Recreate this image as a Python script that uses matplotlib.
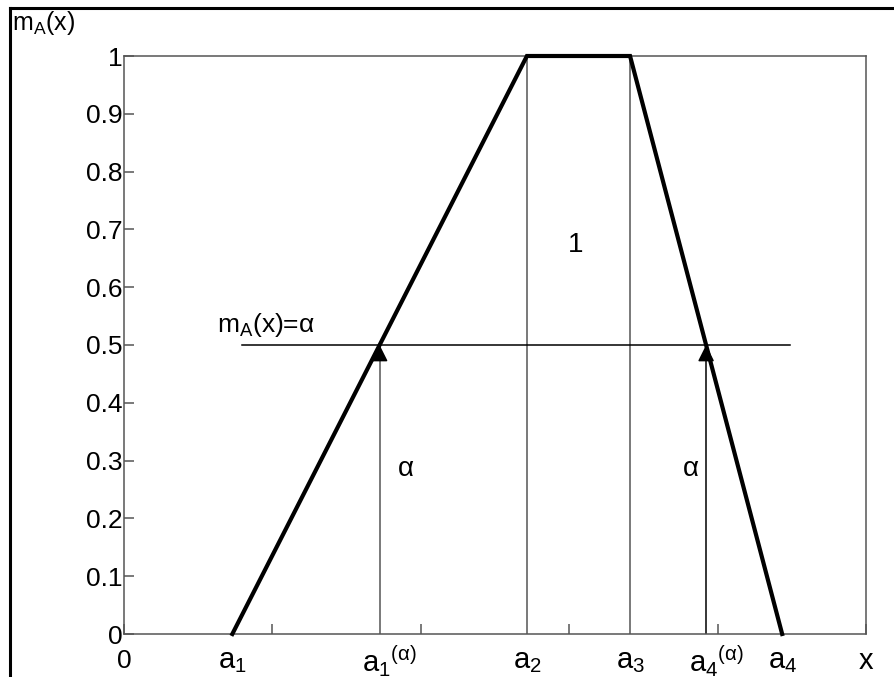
import matplotlib.pyplot as plt
from matplotlib.lines import Line2D

plt.rcParams['font.family'] = ['Liberation Sans', 'DejaVu Sans']
plt.rcParams['mathtext.fontset'] = 'custom'
plt.rcParams['mathtext.rm'] = 'Liberation Sans'
plt.rcParams['mathtext.default'] = 'regular'

# trapezoid membership function
a1, a2, a3, a4 = 0.73, 2.715, 3.41, 4.435
alpha = 0.5
a1_alpha = (a1 + a2) / 2
a4_alpha = (a3 + a4) / 2

trap_x = [a1, a2, a3, a4]
trap_y = [0, 1, 1, 0]

alpha_line_x = [0.795, 4.49]
yticks = [0, 0.1, 0.2, 0.3, 0.4, 0.5, 0.6, 0.7, 0.8, 0.9, 1]
ytick_labels = ['0', '0.1', '0.2', '0.3', '0.4', '0.5', '0.6', '0.7', '0.8', '0.9', '1']
xticks = [0, 1, 2, 3, 4, 5]

x_labels = ['0', 'a$_1$', 'a$_1$$^{(α)}$', 'a$_2$', 'a$_3$', 'a$_4$$^{(α)}$', 'a$_4$', 'x']
x_label_pos = [0, a1, a1_alpha, a2, a3, a4_alpha, a4, 5]

fig = plt.figure(figsize=(8.94, 6.77), dpi=100)
ax = fig.add_axes([124/894, 1 - 634/677, (866-124)/894, (634-56)/677])

# outer frame (left and top only visible)
fig.add_artist(Line2D([10/894, 10/894], [0, 1 - 8/677], color='black', lw=2.2))
fig.add_artist(Line2D([10/894, 1], [1 - 8/677, 1 - 8/677], color='black', lw=2.2))

gray = '#555555'
for s in ax.spines.values():
    s.set_color(gray)
    s.set_linewidth(1.1)

ax.set_xlim(0, 5)
ax.set_ylim(0, 1)
ax.set_xticks(xticks)
ax.set_xticklabels([])
ax.set_yticks(yticks)
ax.set_yticklabels(ytick_labels, fontsize=19)
ax.tick_params(axis='both', direction='in', length=7, color=gray, width=1.1)
ax.tick_params(axis='y', pad=1)

# vertical lines at a2, a3
ax.plot([a2, a2], [0, 1], color=gray, lw=1.1)
ax.plot([a3, a3], [0, 1], color=gray, lw=1.1)

# alpha-cut line
ax.plot(alpha_line_x, [alpha, alpha], color='black', lw=1.1)

# trapezoid
ax.plot(trap_x, trap_y, color='black', lw=3, solid_joinstyle='miter', clip_on=False, zorder=5)

# stems and arrow heads up to alpha level
ax.plot([a1_alpha, a1_alpha], [0, alpha], color=gray, lw=1.1)
ax.plot([a4_alpha, a4_alpha], [0, alpha], color='black', lw=1.1)
for xa in [a1_alpha, a4_alpha]:
    ax.annotate('', xy=(xa, alpha), xytext=(xa, alpha - 0.026),
                arrowprops=dict(arrowstyle='-|>,head_length=1.0,head_width=0.5',
                                color='black', lw=1.1, shrinkA=0, shrinkB=0), zorder=6)

ax.text(3.04, 0.673, '1', fontsize=20, ha='center', va='center')
ax.text(a1_alpha + 0.18, 0.285, 'α', fontsize=20, ha='center', va='center')
ax.text(a4_alpha - 0.1, 0.285, 'α', fontsize=20, ha='center', va='center')
ax.text(0.63, 0.535, 'm$_A$(x)=α', fontsize=19, ha='left', va='center')

fig.text(12/894, 1 - 23/677, 'm$_A$(x)', fontsize=18, ha='left', va='center')

for xp, lab in zip(x_label_pos, x_labels):
    off = 0 if '(α)' not in lab else 10
    fs = 19 if lab == '0' else 21
    ax.annotate(lab, xy=(xp, 0), xycoords=('data', 'axes fraction'),
                xytext=(off, -27), textcoords='offset pixels',
                fontsize=fs, ha='center', va='center')

fig.savefig('out.png', dpi=100)
